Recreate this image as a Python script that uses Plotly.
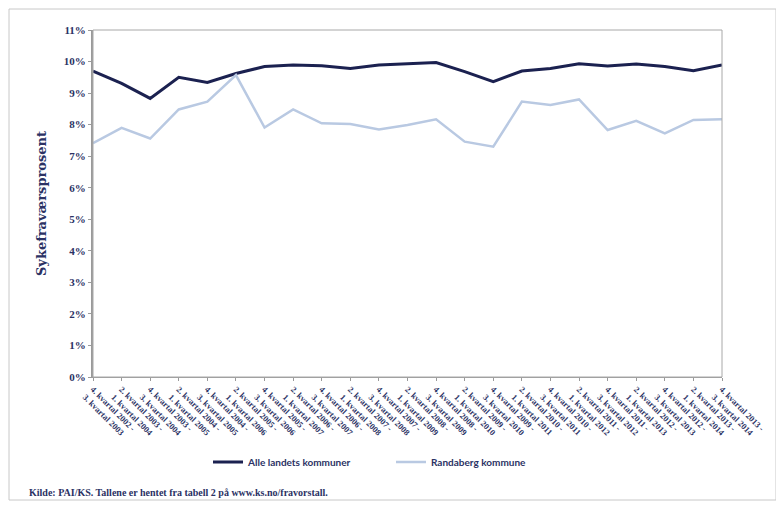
import plotly.graph_objects as go

start_labels = ["4. kvartal 2002 -", "2. kvartal 2003 -", "4. kvartal 2003 -", "2. kvartal 2004 -",
                "4. kvartal 2004 -", "2. kvartal 2005 -", "4. kvartal 2005 -", "2. kvartal 2006 -",
                "4. kvartal 2006 -", "2. kvartal 2007 -", "4. kvartal 2007 -", "2. kvartal 2008 -",
                "4. kvartal 2008 -", "2. kvartal 2009 -", "4. kvartal 2009 -", "2. kvartal 2010 -",
                "4. kvartal 2010 -", "2. kvartal 2011 -", "4. kvartal 2011 -", "2. kvartal 2012 -",
                "4. kvartal 2012 -", "2. kvartal 2013 -", "4. kvartal 2013 -"]
end_labels = ["3. kvartal 2003", "1. kvartal 2004", "3. kvartal 2004", "1. kvartal 2005",
              "3. kvartal 2005", "1. kvartal 2006", "3. kvartal 2006", "1. kvartal 2007",
              "3. kvartal 2007", "1. kvartal 2008", "3. kvartal 2008", "1. kvartal 2009",
              "3. kvartal 2009", "1. kvartal 2010", "3. kvartal 2010", "1. kvartal 2011",
              "3. kvartal 2011", "1. kvartal 2012", "3. kvartal 2012", "1. kvartal 2013",
              "3. kvartal 2013", "1. kvartal 2014", "3. kvartal 2014"]
categories = [a + "<br>" + b for a, b in zip(start_labels, end_labels)]

alle_landets = [9.70, 9.31, 8.83, 9.50, 9.34, 9.62, 9.84, 9.89, 9.87, 9.78, 9.89, 9.93,
                9.97, 9.68, 9.36, 9.70, 9.78, 9.93, 9.86, 9.92, 9.84, 9.71, 9.89]
randaberg = [7.41, 7.90, 7.56, 8.48, 8.73, 9.57, 7.91, 8.48, 8.04, 8.02, 7.85, 7.99,
             8.17, 7.46, 7.30, 8.73, 8.62, 8.80, 7.83, 8.12, 7.72, 8.15, 8.17]

y_ticks = [0, 1, 2, 3, 4, 5, 6, 7, 8, 9, 10, 11]
y_ticktext = [f"{v}%" for v in y_ticks]

navy = "#1b2150"
light = "#b9c9e2"
text_navy = "#2b3264"
serif = "Liberation Serif"

# page body is offset by 8px; plot area spans x 93..722, y 30..377 on the page
W, H = 776, 498
L, T, R = 85, 22, 62
B = H - T - 347
PW, PH = 629, 347


def px(xp):
    return (xp - 93) / PW


def py(yp):
    return (377 - yp) / PH


fig = go.Figure()
fig.add_trace(go.Scatter(x=categories, y=alle_landets, mode="lines", name="Alle landets kommuner",
                         line=dict(color=navy, width=3)))
fig.add_trace(go.Scatter(x=categories, y=randaberg, mode="lines", name="Randaberg kommune",
                         line=dict(color=light, width=2.5)))

fig.update_layout(
    width=W, height=H,
    margin=dict(l=L, r=R, t=T, b=B),
    paper_bgcolor="white", plot_bgcolor="white",
    showlegend=True,
    legend=dict(orientation="h", x=px(208), y=py(462), xanchor="left", yanchor="middle",
                font=dict(family="Lato", size=10, color=text_navy, weight="bold"),
                entrywidth=138, entrywidthmode="pixels", itemwidth=30),
    xaxis=dict(type="category", range=[0, len(categories) - 1], tickangle=45,
               showline=True, linecolor="#9a9a9a", linewidth=1, mirror=False,
               ticks="outside", ticklen=3, tickcolor="#9a9a9a",
               tickfont=dict(family=serif, size=8.5, color=text_navy, weight="bold"),
               showgrid=False, automargin=False),
    yaxis=dict(range=[0, 11], tickvals=y_ticks, ticktext=y_ticktext,
               showline=True, linecolor="#9a9a9a", linewidth=2,
               ticks="outside", ticklen=3, tickcolor="#9a9a9a",
               tickfont=dict(family=serif, size=11, color=text_navy, weight="bold"),
               showgrid=False, zeroline=False, automargin=False,
               title=dict(text="<b>Sykefraværsprosent</b>", standoff=14,
                          font=dict(family="DejaVu Serif", size=13, color=text_navy))),
    shapes=[
        dict(type="rect", xref="paper", yref="paper", x0=0, x1=1, y0=0, y1=1,
             line=dict(color="#a8a8a8", width=1), fillcolor="rgba(0,0,0,0)", layer="above"),
        dict(type="rect", xref="paper", yref="paper",
             x0=px(9), x1=px(776), y0=py(500), y1=py(9),
             line=dict(color="#c8c8c8", width=1), fillcolor="rgba(0,0,0,0)"),
    ],
    annotations=[
        dict(text="<b>Kilde: PAI/KS. Tallene er hentet fra tabell 2 på www.ks.no/fravorstall.</b>",
             xref="paper", yref="paper", x=px(27), y=py(492),
             xanchor="left", yanchor="middle", showarrow=False,
             font=dict(family=serif, size=10, color=text_navy)),
    ],
)

fig.write_html("out.html")
